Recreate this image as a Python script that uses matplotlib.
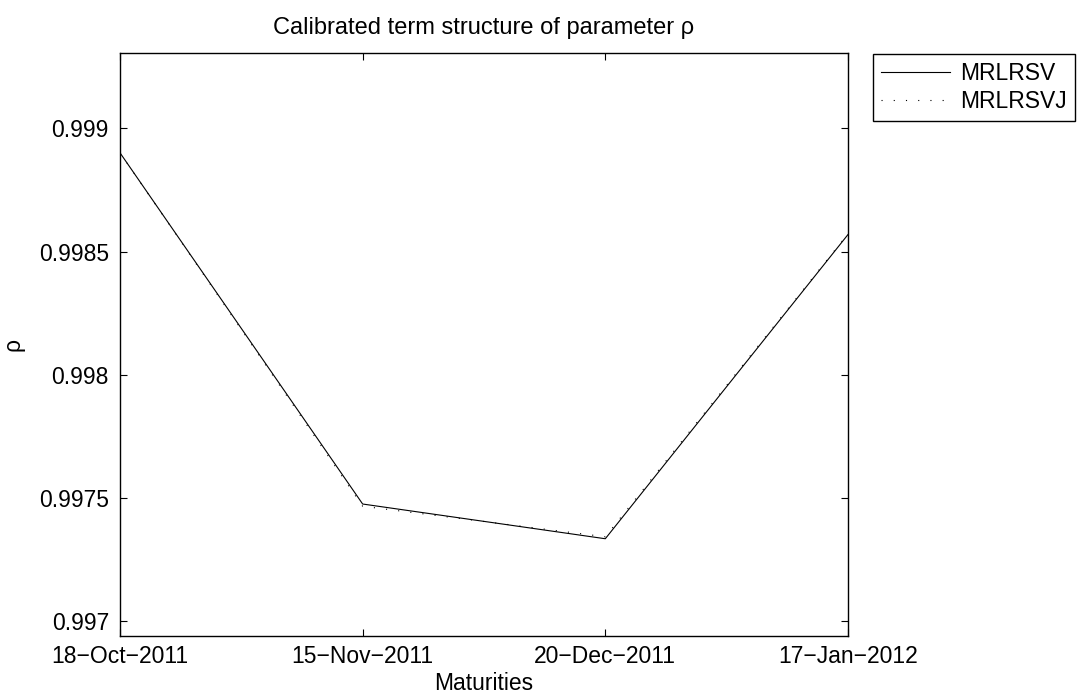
import matplotlib
matplotlib.use("Agg")
import matplotlib.pyplot as plt

maturities = ["18\u2212Oct\u22122011", "15\u2212Nov\u22122011", "20\u2212Dec\u22122011", "17\u2212Jan\u22122012"]
rho_mrlrsv = [0.998901, 0.997475, 0.997334, 0.998569]
rho_mrlrsvj = [0.998901, 0.997466, 0.997342, 0.998572]
y_ticks = [0.997, 0.9975, 0.998, 0.9985, 0.999]

plt.rcParams["font.family"] = ["Liberation Sans", "DejaVu Sans"]
plt.rcParams["font.size"] = 16.5

fig = plt.figure(figsize=(10.86, 6.99), dpi=100)
ax = fig.add_axes([0.1105, 0.0908, 0.6703, 0.8329])

x = list(range(len(maturities)))
ax.plot(x, rho_mrlrsv, color="black", lw=0.8, label="MRLRSV")
ax.plot(x, rho_mrlrsvj, color="black", lw=0.8, linestyle=(0, (1, 10)), label="MRLRSVJ")

ax.set_xlim(0, len(maturities) - 1)
ax.set_ylim(0.996941, 0.999305)
ax.set_xticks(x)
ax.set_xticklabels(maturities)
ax.set_yticks(y_ticks)
ax.set_yticklabels(["0.997", "0.9975", "0.998", "0.9985", "0.999"])
ax.tick_params(direction="in", length=5, width=0.8, top=True, right=True)
ax.tick_params(axis="y", pad=8)
ax.tick_params(axis="x", pad=7)

for s in ax.spines.values():
    s.set_linewidth(1.0)

ax.set_title("Calibrated term structure of parameter \u03c1", fontsize=17, pad=14)
ax.set_xlabel("Maturities", labelpad=3)
ax.set_ylabel("\u03c1", labelpad=10)

fig.legend(loc="upper left", bbox_to_anchor=(873 / 1086, 1 - 54 / 699),
           frameon=True, fancybox=False, edgecolor="black", framealpha=1,
           handlelength=3.0, borderpad=0.35, labelspacing=0.2, handletextpad=0.45,
           borderaxespad=0)

fig.savefig("out.png", dpi=100)
